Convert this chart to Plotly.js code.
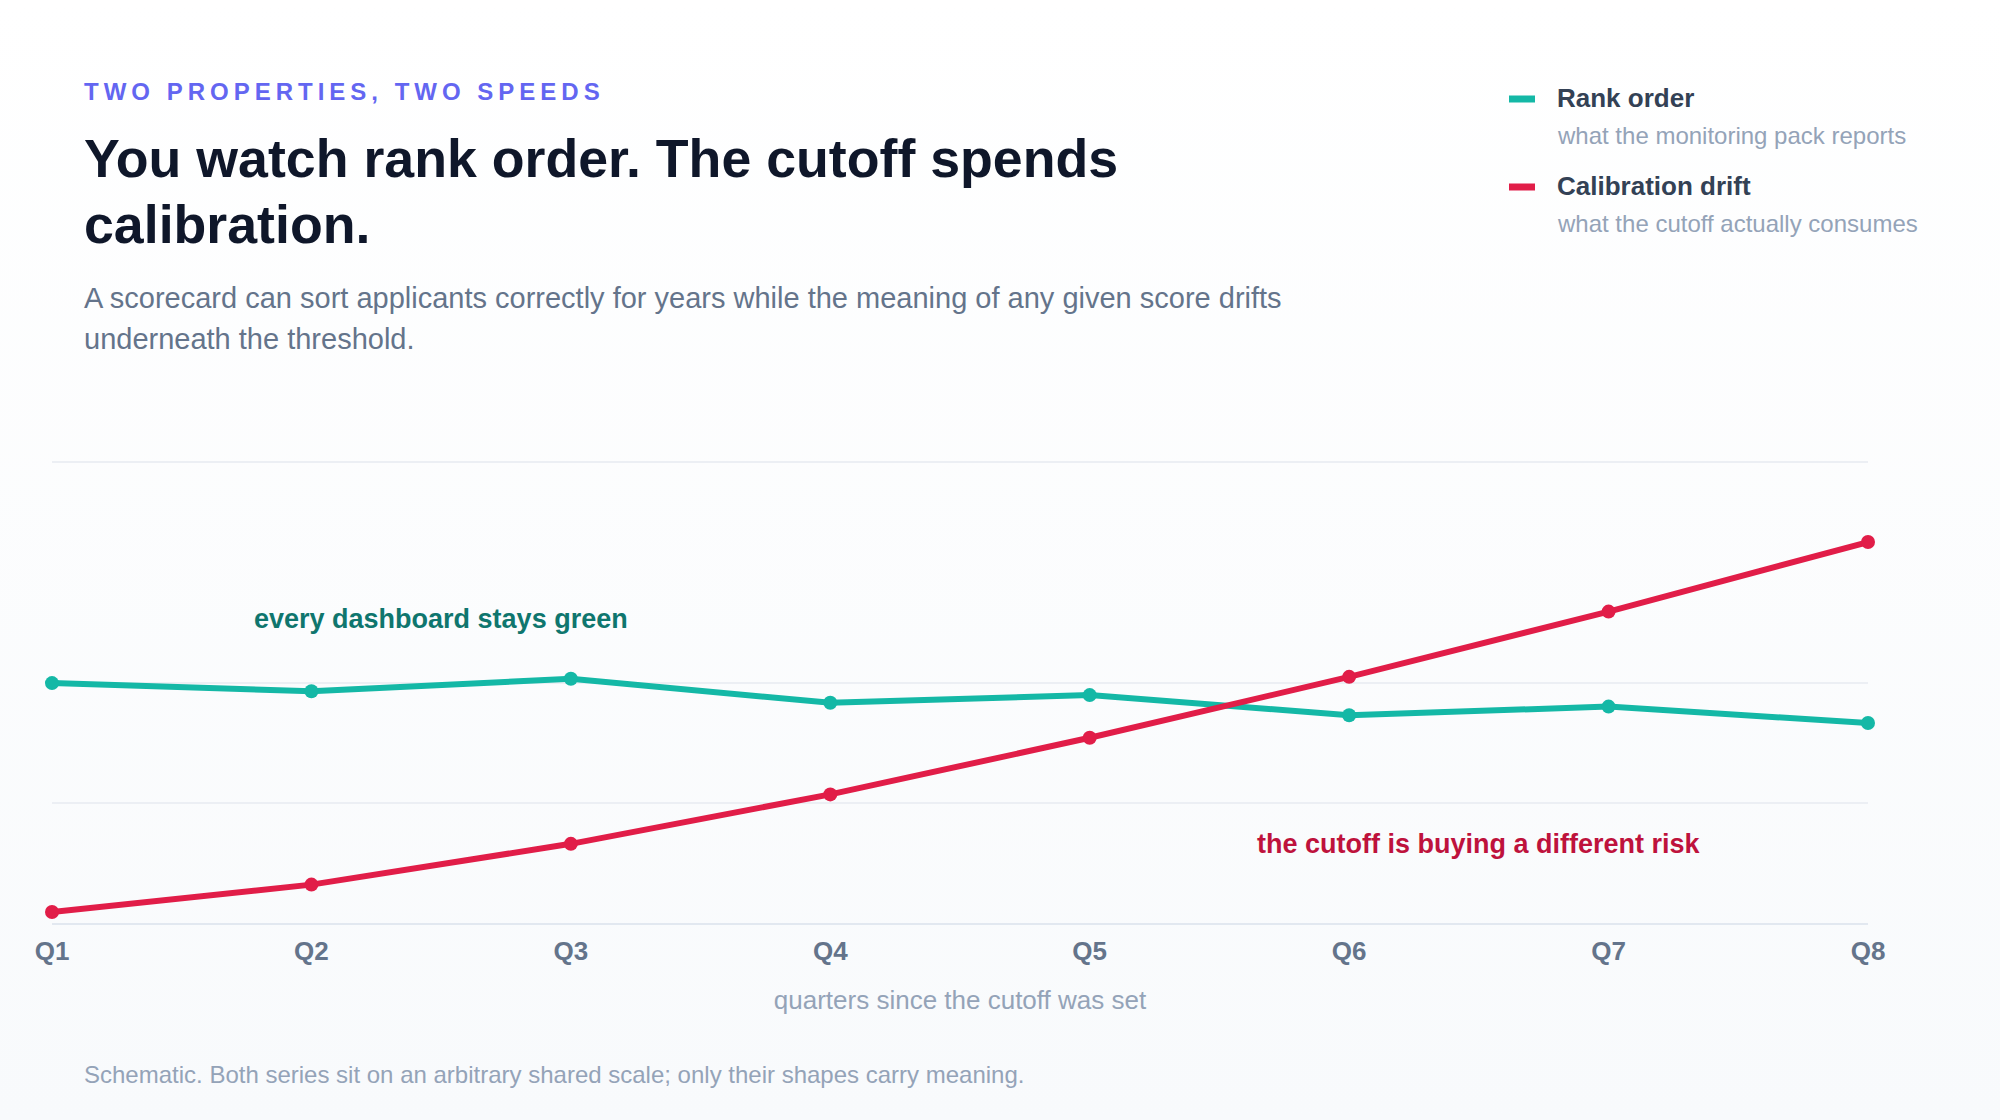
<!DOCTYPE html>
<html>
<head>
<meta charset="utf-8">
<script src="https://cdn.plot.ly/plotly-3.0.1.min.js"></script>
<style>
  html, body { margin: 0; padding: 0; }
  body { width: 2000px; height: 1120px; background: linear-gradient(180deg, #ffffff 0%, #f8fafc 100%); }
  #chart { width: 2000px; height: 1120px; }
</style>
</head>
<body>
<div id="chart"></div>
<script>
// quarters since the cutoff was set
var quarters = ['Q1', 'Q2', 'Q3', 'Q4', 'Q5', 'Q6', 'Q7', 'Q8'];

// schematic values, arbitrary shared scale
var rankOrder = [50.0, 48.3, 50.9, 45.9, 47.5, 43.3, 45.1, 41.7];
var calibrationDrift = [2.3, 8.0, 16.5, 26.8, 38.6, 51.3, 64.9, 79.4];

var seriesNames = ['Rank order', 'Calibration drift'];
var seriesNotes = ['what the monitoring pack reports', 'what the cutoff actually consumes'];
var seriesColors = ['#14b8a6', '#e11d48'];
var gridVals = [25, 50, 96];

var FONT = '"Liberation Sans", Arial, Helvetica, sans-serif';

var traces = [rankOrder, calibrationDrift].map(function (ys, i) {
  return {
    x: quarters,
    y: ys,
    name: seriesNames[i],
    type: 'scatter',
    mode: 'lines+markers',
    line: {color: seriesColors[i], width: 6},
    marker: {color: seriesColors[i], size: 14},
    cliponaxis: false,
    showlegend: false,
    hoverinfo: 'skip'
  };
});

// helpers to place text in paper units from pixel positions of the plot box
var L = 52, T = 460, W = 1816, H = 463;
function px(x) { return (x - L) / W; }
function py(y) { return (T + H - y) / H; }

function label(text, x, y, size, color, bold) {
  return {
    xref: 'paper', yref: 'paper', x: px(x), y: py(y),
    xanchor: 'left', yanchor: 'middle', showarrow: false,
    text: bold ? '<b>' + text + '</b>' : text,
    font: {family: FONT, size: size, color: color}
  };
}

var kicker = 'TWO PROPERTIES, TWO SPEEDS';
var annotations = [
  label(kicker, 82, 91, 24, '#6366f1', true),
  label('You watch rank order. The cutoff spends', 82, 158, 53.7, '#0f172a', true),
  label('calibration.', 82, 224, 53.7, '#0f172a', true),
  label('A scorecard can sort applicants correctly for years while the meaning of any given score drifts', 82, 298, 29, '#64748b', false),
  label('underneath the threshold.', 82, 339, 29, '#64748b', false),
  label('Schematic. Both series sit on an arbitrary shared scale; only their shapes carry meaning.', 82, 1074, 24, '#94a3b8', false),
  {
    x: 1.5, y: 63.4, xref: 'x', yref: 'y', showarrow: false,
    text: '<b>every dashboard stays green</b>',
    font: {family: FONT, size: 27, color: '#0f766e'}
  },
  {
    x: 5.5, y: 16.4, xref: 'x', yref: 'y', showarrow: false,
    text: '<b>the cutoff is buying a different risk</b>',
    font: {family: FONT, size: 27, color: '#be123c'}
  }
];

// custom legend: swatch + name + note
var shapes = [];
var legendY = [99, 187];
seriesNames.forEach(function (name, i) {
  var y0 = legendY[i];
  shapes.push({
    type: 'line', xref: 'paper', yref: 'paper',
    x0: px(1509), x1: px(1535), y0: py(y0), y1: py(y0),
    line: {color: seriesColors[i], width: 7}
  });
  annotations.push(label(name, 1555, y0 - 0.5, 26, '#334155', true));
  annotations.push(label(seriesNotes[i], 1555, y0 + 36.5, 24, '#94a3b8', false));
});

var layout = {
  width: 2000,
  height: 1120,
  margin: {l: L, r: 2000 - L - W, t: T, b: 1120 - T - H, pad: 0},
  paper_bgcolor: 'rgba(0,0,0,0)',
  plot_bgcolor: 'rgba(0,0,0,0)',
  font: {family: FONT},
  showlegend: false,
  xaxis: {
    type: 'category',
    range: [0, 7],
    showgrid: false,
    zeroline: false,
    showline: true,
    linecolor: '#e2e8f0',
    linewidth: 2,
    ticks: '',
    ticklabelstandoff: 4,
    tickfont: {family: FONT, size: 26, color: '#64748b', weight: 'bold'},
    title: {
      text: 'quarters since the cutoff was set',
      font: {family: FONT, size: 26, color: '#94a3b8'},
      standoff: 26
    },
    fixedrange: true
  },
  yaxis: {
    range: [0, 96.5],
    tickvals: gridVals,
    showticklabels: false,
    showgrid: true,
    gridcolor: '#eceff4',
    gridwidth: 2,
    zeroline: false,
    showline: false,
    ticks: '',
    fixedrange: true
  },
  annotations: annotations,
  shapes: shapes
};

Plotly.newPlot('chart', traces, layout, {displayModeBar: false, staticPlot: true}).then(function () {
  // letter-spaced kicker, keep its left edge in place
  document.querySelectorAll('#chart .annotation-text').forEach(function (el) {
    if (el.textContent === kicker) {
      var before = el.getBoundingClientRect().left;
      el.style.letterSpacing = '5px';
      var dx = before - el.getBoundingClientRect().left;
      el.setAttribute('transform', (el.getAttribute('transform') || '') + ' translate(' + dx + ',0)');
    }
  });
});
</script>
</body>
</html>
